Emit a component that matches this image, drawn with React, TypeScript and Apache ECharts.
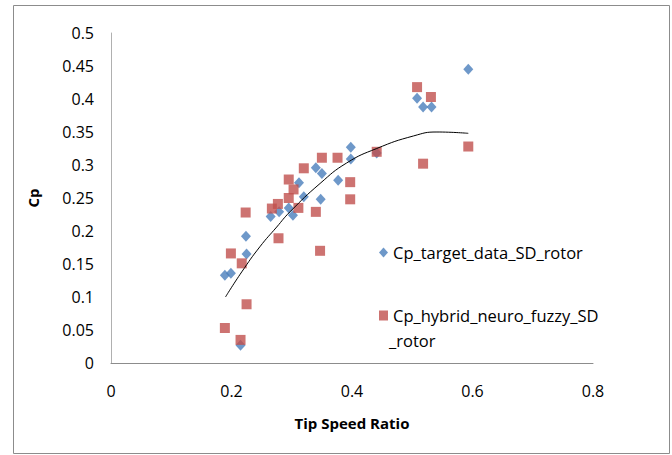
import React, { useEffect, useRef } from "react";
import * as echarts from "echarts";

const xTicks = [0, 0.2, 0.4, 0.6, 0.8];
const targetX = [0.189, 0.199, 0.224, 0.225, 0.215, 0.265, 0.279, 0.295, 0.302, 0.312, 0.320, 0.340, 0.350, 0.348, 0.377, 0.398, 0.398, 0.441, 0.508, 0.518, 0.532, 0.593];
const targetY = [0.133, 0.136, 0.192, 0.165, 0.027, 0.222, 0.229, 0.235, 0.224, 0.273, 0.252, 0.296, 0.287, 0.248, 0.277, 0.327, 0.309, 0.318, 0.401, 0.388, 0.388, 0.445];
const hybridX = [0.189, 0.215, 0.225, 0.217, 0.199, 0.2235, 0.267, 0.277, 0.278, 0.295, 0.303, 0.295, 0.311, 0.320, 0.340, 0.347, 0.350, 0.376, 0.397, 0.397, 0.441, 0.508, 0.531, 0.518, 0.593];
const hybridY = [0.053, 0.035, 0.089, 0.151, 0.166, 0.228, 0.234, 0.241, 0.189, 0.278, 0.263, 0.250, 0.235, 0.295, 0.229, 0.170, 0.311, 0.311, 0.274, 0.248, 0.320, 0.418, 0.403, 0.302, 0.328];
const trendX = [0.19, 0.217, 0.247, 0.275, 0.297, 0.347, 0.391, 0.441, 0.502, 0.541, 0.593];
const trendY = [0.100, 0.138, 0.176, 0.206, 0.229, 0.272, 0.303, 0.325, 0.344, 0.350, 0.348];

const S1 = "Cp_target_data_SD_rotor";
const S2 = "Cp_hybrid_neuro_fuzzy_SD";
const FONT = "'Open Sans', 'Noto Sans', sans-serif";

const zip = (xs: number[], ys: number[]) => xs.map((x, i) => [x, ys[i]]);

export default function App() {
  const ref = useRef<HTMLDivElement>(null);
  useEffect(() => {
    if (!ref.current) return;
    const chart = echarts.init(ref.current, null, { renderer: "svg" });
    chart.setOption({
      animation: false,
      backgroundColor: "#fff",
      textStyle: { fontFamily: FONT },
      grid: { left: 111, top: 33, right: 79, bottom: 92 },
      xAxis: {
        type: "value",
        min: xTicks[0],
        max: xTicks[xTicks.length - 1],
        interval: 0.2,
        name: "Tip Speed Ratio",
        nameLocation: "middle",
        nameGap: 52,
        nameTextStyle: { fontFamily: FONT, fontWeight: "bold", fontSize: 15, color: "#000" },
        axisLine: { lineStyle: { color: "#8c8c8c", width: 1 } },
        axisTick: { show: false },
        splitLine: { show: false },
        axisLabel: { color: "#000", fontSize: 16, fontFamily: FONT, margin: 20 },
      },
      yAxis: {
        type: "value",
        min: 0,
        max: 0.5,
        interval: 0.05,
        name: "Cp",
        nameLocation: "middle",
        nameGap: 71,
        nameTextStyle: { fontFamily: FONT, fontWeight: "bold", fontSize: 15, color: "#000" },
        axisLine: { show: true, lineStyle: { color: "#b0b0b0", width: 1 } },
        axisTick: { show: false },
        splitLine: { show: false },
        axisLabel: {
          color: "#000",
          fontSize: 16,
          fontFamily: FONT,
          margin: 17,
          formatter: (v: number) => String(Math.round(v * 100) / 100),
        },
      },
      legend: [
        {
          data: [{ name: S1, icon: "diamond" }],
          left: 374,
          top: 239,
          itemWidth: 9,
          itemHeight: 10,
          itemGap: 4,
          textStyle: { fontSize: 16.5, fontFamily: FONT, color: "#000" },
        },
        {
          data: [{ name: S2, icon: "rect" }],
          left: 374,
          top: 302,
          itemWidth: 9,
          itemHeight: 10,
          itemGap: 4,
          textStyle: { fontSize: 16.5, fontFamily: FONT, color: "#000" },
        },
      ],
      graphic: [
        {
          type: "rect",
          shape: { x: 13.5, y: 5.5, width: 656, height: 448 },
          style: { fill: "none", stroke: "#8c8c8c", lineWidth: 1 },
          silent: true,
        },
        {
          type: "text",
          x: 389,
          y: 340,
          style: { text: "_rotor", font: `16.5px ${FONT}`, fill: "#000", textVerticalAlign: "middle" },
        },
      ],
      series: [
        {
          name: S1,
          type: "scatter",
          symbol: "diamond",
          symbolSize: [10, 11],
          itemStyle: { color: "#4A7EBB" },
          data: zip(targetX, targetY),
          z: 2,
        },
        {
          name: S2,
          type: "scatter",
          symbol: "rect",
          symbolSize: 10,
          itemStyle: { color: "#C0504D" },
          data: zip(hybridX, hybridY),
          z: 3,
        },
        {
          name: "trend",
          type: "line",
          smooth: true,
          showSymbol: false,
          lineStyle: { color: "#000", width: 1 },
          data: zip(trendX, trendY),
          z: 4,
          silent: true,
        },
      ],
    });
    return () => chart.dispose();
  }, []);
  return <div ref={ref} style={{ position: "fixed", left: 0, top: 0, width: 672, height: 455 }} />;
}
